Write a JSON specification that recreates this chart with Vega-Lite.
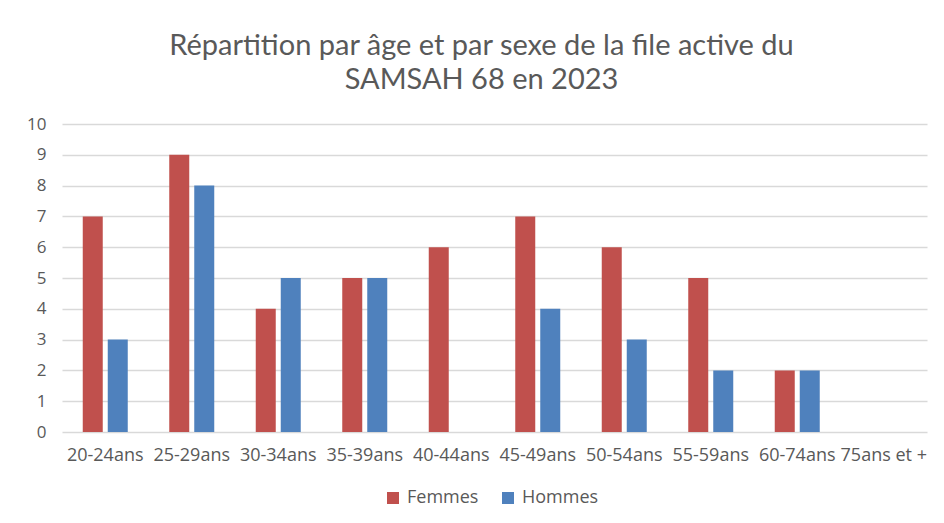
{
  "$schema": "https://vega.github.io/schema/vega-lite/v6.json",
  "width": 865,
  "height": 308,
  "autosize": {"type": "none"},
  "padding": {"left": 62, "top": 124, "right": 17, "bottom": 91},
  "background": "white",
  "title": {
    "text": ["Répartition par âge et par sexe de la file active du", "SAMSAH 68 en 2023"],
    "font": "Lato",
    "fontSize": 29,
    "fontWeight": "normal",
    "color": "#595959",
    "lineHeight": 34,
    "anchor": "middle",
    "dx": -13,
    "offset": 20
  },
  "data": {
    "values": [
      {"age": "20-24ans", "sexe": "Femmes", "n": 7},
      {"age": "20-24ans", "sexe": "Hommes", "n": 3},
      {"age": "25-29ans", "sexe": "Femmes", "n": 9},
      {"age": "25-29ans", "sexe": "Hommes", "n": 8},
      {"age": "30-34ans", "sexe": "Femmes", "n": 4},
      {"age": "30-34ans", "sexe": "Hommes", "n": 5},
      {"age": "35-39ans", "sexe": "Femmes", "n": 5},
      {"age": "35-39ans", "sexe": "Hommes", "n": 5},
      {"age": "40-44ans", "sexe": "Femmes", "n": 6},
      {"age": "40-44ans", "sexe": "Hommes", "n": 0},
      {"age": "45-49ans", "sexe": "Femmes", "n": 7},
      {"age": "45-49ans", "sexe": "Hommes", "n": 4},
      {"age": "50-54ans", "sexe": "Femmes", "n": 6},
      {"age": "50-54ans", "sexe": "Hommes", "n": 3},
      {"age": "55-59ans", "sexe": "Femmes", "n": 5},
      {"age": "55-59ans", "sexe": "Hommes", "n": 2},
      {"age": "60-74ans", "sexe": "Femmes", "n": 2},
      {"age": "60-74ans", "sexe": "Hommes", "n": 2},
      {"age": "75ans et +", "sexe": "Femmes", "n": 0},
      {"age": "75ans et +", "sexe": "Hommes", "n": 0}
    ]
  },
  "mark": {"type": "bar"},
  "encoding": {
    "x": {
      "field": "age",
      "type": "nominal",
      "sort": null,
      "scale": {"paddingInner": 0, "paddingOuter": 0},
      "axis": {
        "title": null,
        "labelAngle": 0,
        "ticks": false,
        "domain": false,
        "grid": false,
        "labelFont": "Open Sans",
        "labelFontSize": 18,
        "labelColor": "#595959",
        "labelPadding": 14,
        "labelLimit": 200,
        "labelOverlap": false
      }
    },
    "xOffset": {
      "field": "sexe",
      "type": "nominal",
      "scale": {"paddingInner": 0.2, "paddingOuter": 0.83}
    },
    "y": {
      "field": "n",
      "type": "quantitative",
      "scale": {"domain": [0, 10], "nice": false},
      "axis": {
        "title": null,
        "values": [0, 1, 2, 3, 4, 5, 6, 7, 8, 9, 10],
        "domain": false,
        "ticks": false,
        "grid": true,
        "gridColor": "#D9D9D9",
        "gridWidth": 1.5,
        "labelFont": "Open Sans",
        "labelFontSize": 17,
        "labelColor": "#595959",
        "labelPadding": 16
      }
    },
    "color": {
      "field": "sexe",
      "type": "nominal",
      "scale": {"domain": ["Femmes", "Hommes"], "range": ["#C0504D", "#4F81BD"]},
      "legend": {
        "title": null,
        "orient": "none",
        "direction": "horizontal",
        "legendX": 322,
        "legendY": 365,
        "symbolType": "square",
        "symbolSize": 144,
        "symbolStrokeWidth": 0,
        "labelFont": "Open Sans",
        "labelFontSize": 18,
        "labelColor": "#595959",
        "labelOffset": 5,
        "columnPadding": 20
      }
    }
  },
  "config": {"view": {"stroke": null}}
}
